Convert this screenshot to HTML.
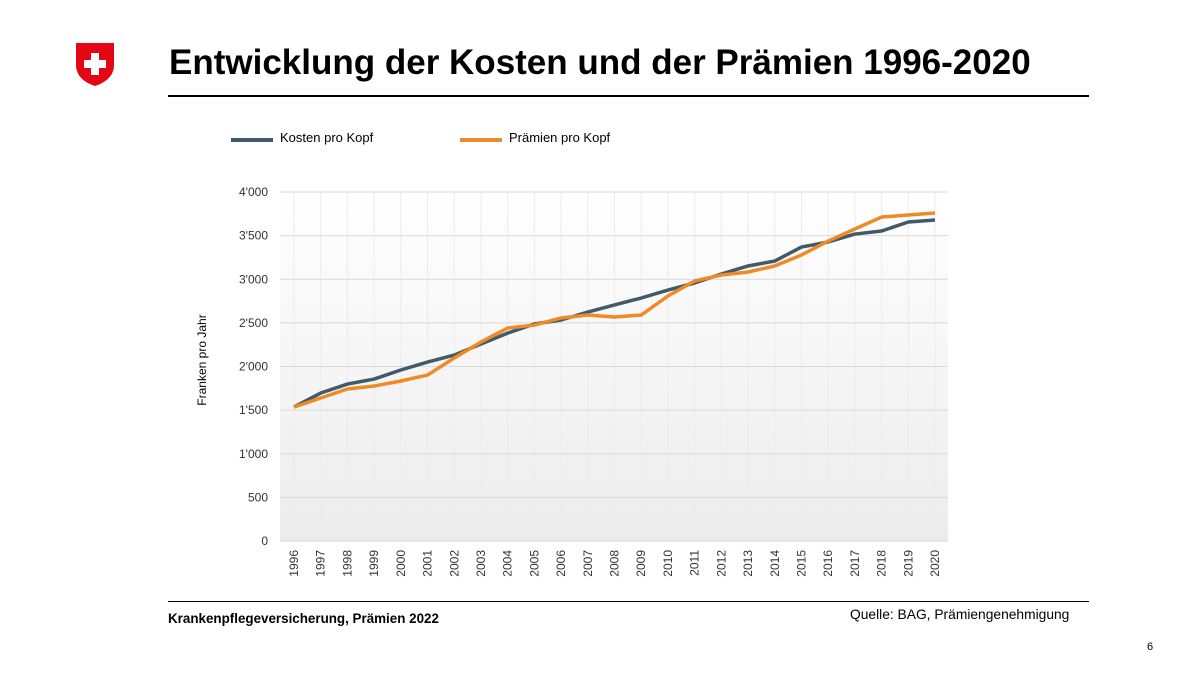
<!DOCTYPE html>
<html><head><meta charset="utf-8"><style>
body{margin:0;width:1200px;height:675px;background:#fff;font-family:"Liberation Sans",Arial,sans-serif;overflow:hidden;position:relative}
.t{position:absolute;white-space:nowrap}
</style></head><body>
<svg style="position:absolute;left:74px;top:41px" width="42" height="46" viewBox="0 0 42 46">
<path d="M2 2 H40 V24 C40 36 30 42 21 45 C12 42 2 36 2 24 Z" fill="#e30613"/>
<rect x="17" y="12" width="8" height="22" fill="#fff"/><rect x="10" y="19" width="22" height="8" fill="#fff"/>
</svg>
<div class="t" style="left:169px;top:43px;font-size:35px;font-weight:bold;color:#000">Entwicklung der Kosten und der Prämien 1996-2020</div>
<div style="position:absolute;left:168px;top:95px;width:921px;height:2px;background:#000"></div>
<div style="position:absolute;left:168px;top:601px;width:921px;height:1px;background:#000"></div>
<div class="t" style="left:168px;top:611px;font-size:13.4px;font-weight:bold">Krankenpflegeversicherung, Prämien 2022</div>
<div class="t" style="left:850px;top:607px;font-size:13.8px">Quelle: BAG, Prämiengenehmigung</div>
<div class="t" style="left:1147px;top:641px;font-size:11px">6</div>
<svg id="c" width="1200" height="675" style="position:absolute;left:0;top:0">
<defs><linearGradient id="g" x1="0" y1="0" x2="0" y2="1"><stop offset="0" stop-color="#fff"/><stop offset="1" stop-color="#ececec"/></linearGradient></defs>
</svg>
<script>
const years=[1996,1997,1998,1999,2000,2001,2002,2003,2004,2005,2006,2007,2008,2009,2010,2011,2012,2013,2014,2015,2016,2017,2018,2019,2020];
const kosten=[1535,1696,1799,1856,1960,2051,2131,2258,2383,2487,2533,2624,2705,2785,2876,2957,3060,3152,3209,3369,3427,3518,3553,3656,3679];
const praemien=[1535,1639,1742,1776,1834,1902,2097,2281,2441,2475,2556,2590,2567,2590,2808,2980,3048,3083,3152,3278,3438,3576,3713,3736,3759];
const yTicks=[0,500,1000,1500,2000,2500,3000,3500,4000];
const yLabels=["0","500","1'000","1'500","2'000","2'500","3'000","3'500","4'000"];
const svg=document.getElementById('c');const NS='http://www.w3.org/2000/svg';
const X0=280,X1=948,Y0=541,Y1=192;
const x=i=>294+i*(935-294)/(years.length-1);
const y=v=>Y0-(v/4000)*(Y0-Y1);
function mk(t,a,p){const e=document.createElementNS(NS,t);for(const k in a)e.setAttribute(k,a[k]);(p||svg).appendChild(e);return e;}
const bg=mk('rect',{x:X0,y:Y1,width:X1-X0,height:Y0-Y1,fill:'url(#g)'});


years.forEach((yr,i)=>{
 const l=mk('line',{x1:x(i),x2:x(i),y1:Y1,y2:Y0,stroke:'#ececec','stroke-width':1});
 
 
 const t=mk('text',{x:0,y:0,'font-size':12,fill:'#333','text-anchor':'end',transform:`translate(${x(i)+4},${Y0+9}) rotate(-90)`});
 t.textContent=yr;
 
 
});
yTicks.forEach((v,i)=>{
 const l=mk('line',{x1:X0,x2:X1,y1:y(v),y2:y(v),stroke:'#d9d9d9','stroke-width':1});
 
 
 const t=mk('text',{x:268,y:y(v)+4,'font-size':12,fill:'#333','text-anchor':'end'});
 t.textContent=yLabels[i];
 
 
});
const yt=mk('text',{x:0,y:0,'font-size':12,fill:'#000','text-anchor':'middle',transform:`translate(206,360) rotate(-90)`});
yt.textContent='Franken pro Jahr';


function line(d,c,n){const p=mk('polyline',{points:d.map((v,i)=>x(i)+','+y(v)).join(' '),fill:'none',stroke:c,'stroke-width':3.5,'stroke-linejoin':'round'});
 
 }
line(kosten,'#415a6b','kosten-line');
line(praemien,'#f08a24','praemien-line');
function leg(x0,c,txt,n){const g=mk('g',{});
 
 
 mk('line',{x1:x0,x2:x0+42,y1:140,y2:140,stroke:c,'stroke-width':4},g);
 const t=mk('text',{x:x0+49,y:142,'font-size':13,fill:'#000'},g);t.textContent=txt;}
leg(231,'#415a6b','Kosten pro Kopf','legend-kosten');
leg(460,'#f08a24','Prämien pro Kopf','legend-praemien');
</script>
</body></html>
